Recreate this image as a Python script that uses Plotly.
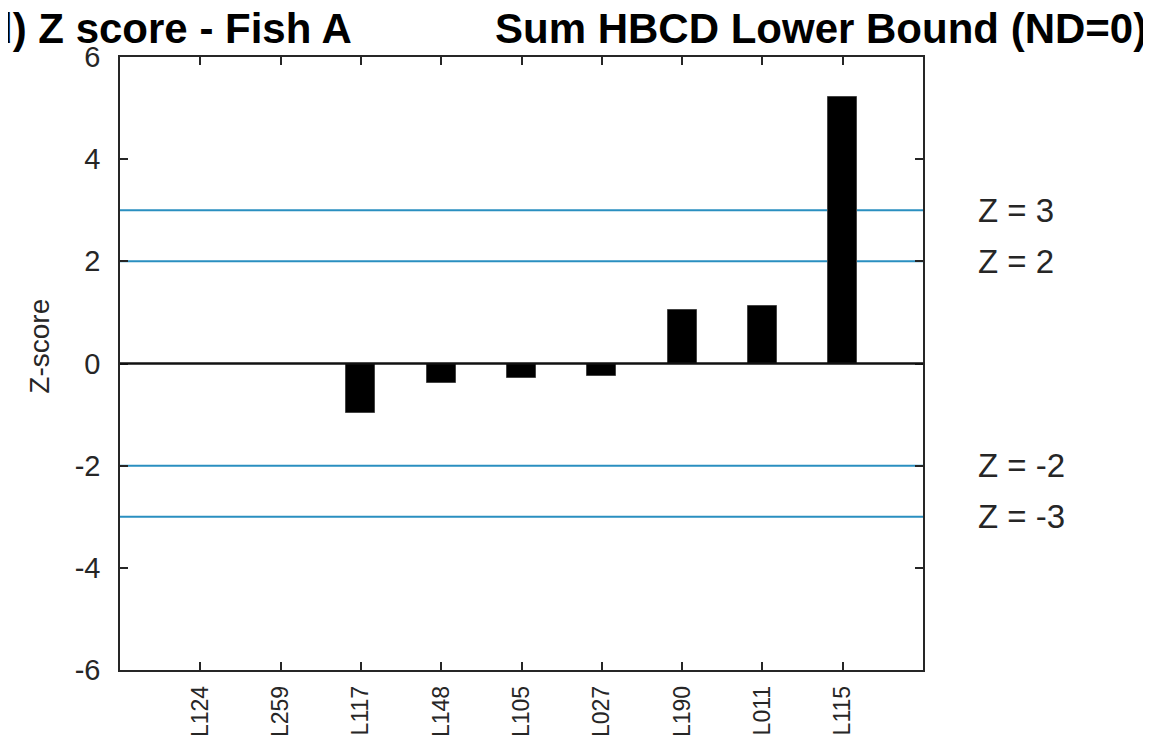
import plotly.graph_objects as go

labs = ["L124", "L259", "L117", "L148", "L105", "L027", "L190", "L011", "L115"]
zscores = [0.0, 0.0, -0.97, -0.38, -0.29, -0.24, 1.05, 1.12, 5.22]
limits = [3, 2, -2, -3]
limit_labels = ["Z = 3", "Z = 2", "Z = -2", "Z = -3"]
yticks = [-6, -4, -2, 0, 2, 4, 6]
yticktext = ["-6", "-4", "-2", "0", "2", "4", "6"]

FONT = "Liberation Sans, Arial, sans-serif"
TXT = "#262626"
idx = list(range(len(labs)))

fig = go.Figure()
fig.add_trace(go.Bar(
    x=idx, y=zscores, width=0.36,
    marker=dict(color="black", line=dict(color="#444444", width=1)),
    showlegend=False, hoverinfo="x+y",
))

for v, t in zip(limits, limit_labels):
    fig.add_shape(type="line", xref="x", yref="y", x0=-1, x1=9, y0=v, y1=v,
                  line=dict(color="#2a8fc0", width=2), layer="below")
    fig.add_annotation(x=1.066, xref="paper", y=v, yref="y", text=t,
                       showarrow=False, xanchor="left", yanchor="middle",
                       font=dict(family=FONT, size=33, color=TXT))

fig.add_shape(type="line", xref="x", yref="y", x0=-1, x1=9, y0=0, y1=0,
              line=dict(color="#111111", width=2.5), layer="above")

fig.add_annotation(x=-0.1681, xref="paper", y=1.0, yref="paper",
                   text="<b>d) Z score - Fish A</b>", showarrow=False,
                   xanchor="left", yanchor="middle", yshift=29,
                   font=dict(family=FONT, size=42, color="black"))
fig.add_annotation(x=1.281, xref="paper", y=1.0, yref="paper",
                   text="<b>Sum HBCD Lower Bound (ND=0)</b>", showarrow=False,
                   xanchor="right", yanchor="middle", yshift=29,
                   font=dict(family=FONT, size=42, color="black"))
fig.add_annotation(x=-0.1, xref="paper", y=0.5286, yref="paper",
                   text="Z-score", textangle=-90, showarrow=False,
                   xanchor="center", yanchor="middle",
                   font=dict(family=FONT, size=28, color=TXT))

fig.update_layout(
    width=1143, height=734,
    margin=dict(l=112, r=228, t=49, b=72, autoexpand=False),
    paper_bgcolor="white", plot_bgcolor="white",
    font=dict(family=FONT, color=TXT),
    bargap=0,
)
fig.update_xaxes(
    range=[-1, 9], tickmode="array", tickvals=idx, ticktext=labs,
    tickangle=-90, tickfont=dict(size=23, family=FONT, color=TXT),
    ticks="inside", ticklen=8, tickcolor=TXT, tickwidth=1.5,
    ticklabelstandoff=5, automargin=False,
    showline=True, linecolor=TXT, linewidth=1.5, mirror="ticks",
    showgrid=False, zeroline=False,
)
fig.update_yaxes(
    range=[-6, 6], tickmode="array", tickvals=yticks, ticktext=yticktext,
    tickfont=dict(size=29, family=FONT, color=TXT),
    ticks="inside", ticklen=8, tickcolor=TXT, tickwidth=1.5,
    ticklabelstandoff=12, automargin=False,
    showline=True, linecolor=TXT, linewidth=1.5, mirror="ticks",
    showgrid=False, zeroline=False,
)

fig.write_html("out.html")
